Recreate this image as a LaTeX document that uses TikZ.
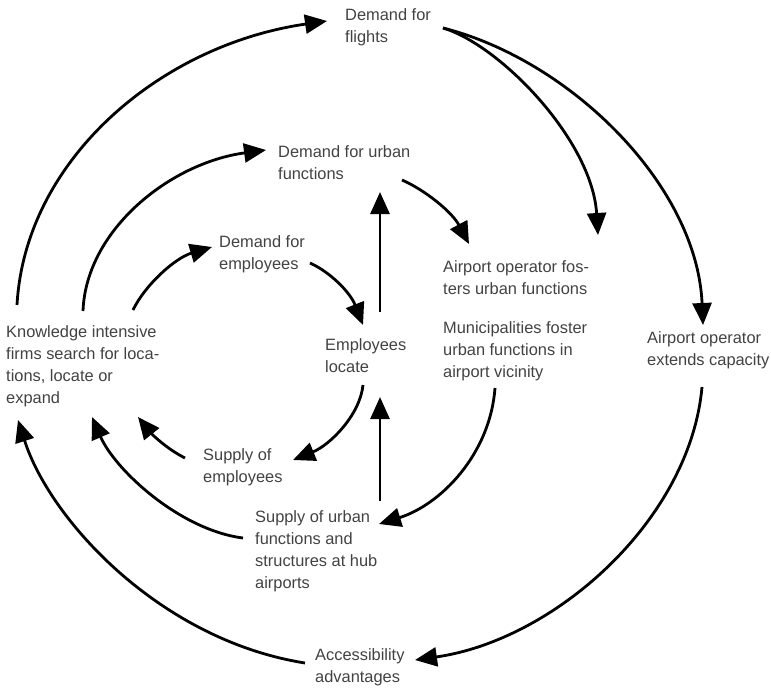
\documentclass[tikz,border=0pt]{standalone}
\usepackage{fontspec}
\setmainfont{Liberation Sans}
\usetikzlibrary{arrows.meta}
\definecolor{txt}{HTML}{424242}
\begin{document}
\begin{tikzpicture}[x=1pt,y=-1pt,
  lbl/.style={anchor=north west, inner sep=0pt, align=left, text=txt,
    font=\fontsize{16.4}{22.3}\selectfont},
  conn/.style={line width=2.8pt, -{Triangle[length=22pt,width=19pt]}}]
\useasboundingbox (0,0) rectangle (771,691);

\node[lbl] (flights) at (345,8)   {Demand for\\flights};
\node[lbl] (udem)    at (278,145) {Demand for urban\\functions};
\node[lbl] (edem)    at (219,235) {Demand for\\employees};
\node[lbl] (know)    at (6,325)   {Knowledge intensive\\firms search for loca-\\tions, locate or\\expand};
\node[lbl] (emp)     at (325,338) {Employees\\locate};
\node[lbl] (fost)    at (443,260) {Airport operator fos-\\ters urban functions};
\node[lbl] (muni)    at (443,321) {Municipalities foster\\urban functions in\\airport vicinity};
\node[lbl] (cap)     at (647,331) {Airport operator\\extends capacity};
\node[lbl] (supemp)  at (203,448) {Supply of\\employees};
\node[lbl] (supurb)  at (255,510) {Supply of urban\\functions and\\structures at hub\\airports};
\node[lbl] (acc)     at (315,648) {Accessibility\\advantages};

% Knowledge -> demands
\draw[conn] ([shift={(11,-20)}]know.north west) .. controls (25,160) and (160,45) .. ([shift={(-18,13)}]flights.north west);
\draw[conn] ([shift={(77,-14)}]know.north west) .. controls (86,230) and (170,163) .. ([shift={(-12,5)}]udem.north west);
\draw[conn] ([shift={(127,-15)}]know.north west) .. controls (145,285) and (175,258) .. ([shift={(-7,12)}]edem.north west);
% demand for employees -> employees locate
\draw[conn] ([shift={(91,28)}]edem.north west) .. controls (330,272) and (350,292) .. ([shift={(38,-13)}]emp.north west);
% employees locate -> demand for urban functions
\draw[conn] ([shift={(55,-26)}]emp.north west) -- ([shift={(102,47)}]udem.north west);
% demand for urban -> airport operator fosters
\draw[conn] ([shift={(124,35)}]udem.north west) .. controls (425,190) and (452,212) .. ([shift={(26,-16)}]fost.north west);
% demand for flights -> fosters / extends capacity
\draw[conn] ([shift={(98,20)}]flights.north west) .. controls (500,45) and (592,140) .. ([shift={(155,-25)}]fost.north west);
\draw[conn] ([shift={(98,20)}]flights.north west) .. controls (570,60) and (697,185) .. ([shift={(56,-6)}]cap.north west);
% extends capacity -> accessibility
\draw[conn] ([shift={(55,56)}]cap.north west) .. controls (690,520) and (555,640) .. ([shift={(100,12)}]acc.north west);
% municipalities -> supply of urban functions
\draw[conn] ([shift={(52,67)}]muni.north west) .. controls (490,455) and (440,505) .. ([shift={(124,14)}]supurb.north west);
% supply of urban -> employees locate
\draw[conn] ([shift={(125,-9)}]supurb.north west) -- ([shift={(55,59)}]emp.north west);
% employees locate -> supply of employees
\draw[conn] ([shift={(38,47)}]emp.north west) .. controls (360,415) and (330,445) .. ([shift={(90,12)}]supemp.north west);
% supplies / accessibility -> knowledge firms
\draw[conn] ([shift={(-18,10)}]supemp.north west) .. controls (165,448) and (150,432) .. ([shift={(132,92)}]know.north west);
\draw[conn] ([shift={(-12,28)}]supurb.north west) .. controls (180,530) and (115,470) .. ([shift={(86,92)}]know.north west);
\draw[conn] ([shift={(-10,15)}]acc.north west) .. controls (160,640) and (50,520) .. ([shift={(12,95)}]know.north west);
\end{tikzpicture}
\end{document}
